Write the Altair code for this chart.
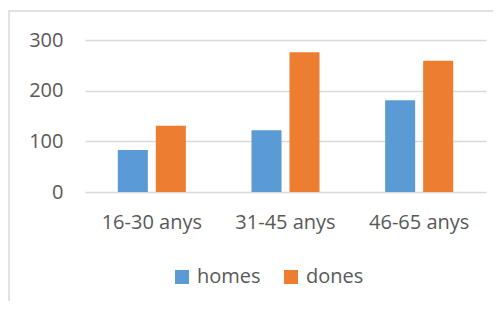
import altair as alt
import pandas as pd

categories = ["16-30 anys", "31-45 anys", "46-65 anys"]
series = ["homes", "dones"]
homes = [83, 122, 181]
dones = [131, 276, 259]
colors = ["#5B9BD5", "#ED7D31"]

rows = []
for i, c in enumerate(categories):
    rows.append({"cat": c, "serie": "homes", "val": homes[i]})
    rows.append({"cat": c, "serie": "dones", "val": dones[i]})
df = pd.DataFrame(rows)

FONT = "Open Sans"
TXT = "#595959"
GRID = "#D9D9D9"

bars = alt.Chart(df).mark_bar().encode(
    x=alt.X("cat:N", sort=categories, title=None,
            scale=alt.Scale(paddingInner=0.491, paddingOuter=0.2455),
            axis=alt.Axis(labelAngle=0, domain=False, ticks=False, labelPadding=20,
                          labelFontSize=20, labelColor=TXT, labelFont=FONT)),
    xOffset=alt.XOffset("serie:N", sort=series,
                        scale=alt.Scale(paddingInner=0.21, paddingOuter=0)),
    y=alt.Y("val:Q", title=None,
            scale=alt.Scale(domain=[0, 300], nice=False),
            axis=alt.Axis(values=[0, 100, 200, 300], domain=False, ticks=False,
                          labelPadding=22, labelFontSize=20, labelColor=TXT, labelFont=FONT,
                          gridColor=GRID, gridWidth=1.5)),
    color=alt.Color("serie:N", sort=series,
                    scale=alt.Scale(domain=series, range=colors),
                    legend=alt.Legend(title=None, orient="none", direction="horizontal",
                                      legendX=87, legendY=227, symbolType="square",
                                      symbolSize=196, symbolStrokeWidth=0,
                                      labelFontSize=20, labelColor=TXT, labelFont=FONT,
                                      labelOffset=5, columnPadding=20)),
)

frame = alt.Chart(pd.DataFrame({"a": [0]})).mark_rect(
    fill=None, stroke=GRID, strokeWidth=1.5, clip=False
).encode(
    x=alt.value(-76), x2=alt.value(700), y=alt.value(-29), y2=alt.value(500)
)

chart = alt.layer(frame, bars).properties(
    width=401, height=152,
    autosize=alt.AutoSizeParams(type="none"),
    padding={"left": 77, "top": 32, "right": 7, "bottom": 109},
).configure_view(stroke=None)

chart.save("out.html", embed_options={"renderer": "svg", "actions": False})
